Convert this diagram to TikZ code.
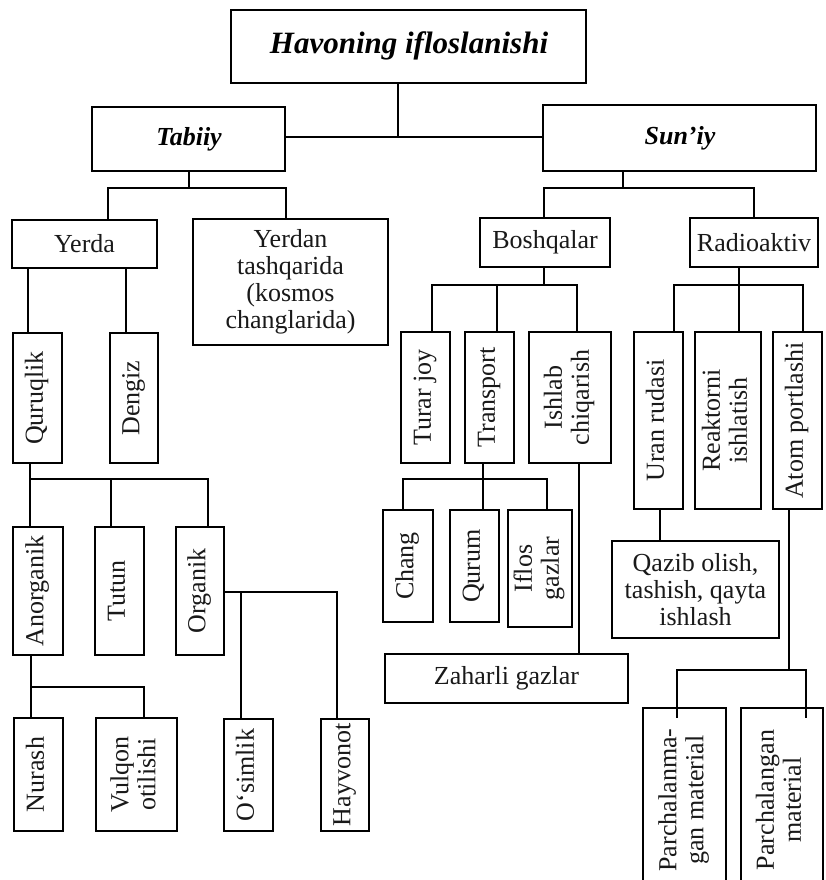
\documentclass[tikz,border=0pt]{standalone}
\usepackage{fontspec}
\setmainfont{Liberation Serif}
\usepackage{graphicx}
\usetikzlibrary{calc}
\newcommand{\mkbox}[6]{\node[bx, minimum width={(#4-#2)*1pt}, minimum height={(#5-#3)*1pt}] (#1) at ({(#2+#4)/2},{(#3+#5)/2}) {#6};}
\newcommand{\vt}[1]{\rotatebox{90}{\begin{tabular}{@{}c@{}}#1\end{tabular}}}
\begin{document}
\begin{tikzpicture}[x=1pt,y=-1pt,
  bx/.style={draw=black, line width=1.5pt, fill=white, inner sep=0pt, align=center,
    font=\fontsize{26}{27}\selectfont, text=black!90},
  ttl/.style={font=\fontsize{31}{33}\selectfont\bfseries\itshape},
  sub/.style={font=\fontsize{26}{27}\selectfont\bfseries\itshape},
  ln/.style={line width=1.5pt, line cap=rect}]
\useasboundingbox (0,0) rectangle (825,880);
\clip (0,0) rectangle (825,880);
\fill[white] (0,0) rectangle (825,880);
% boxes
\mkbox{top}{231}{10}{586}{83}{}
\node[ttl] at (409,46) {Havoning ifloslanishi};
\mkbox{tabiiy}{92}{107}{285}{171}{}
\node[sub] at (189,139) {Tabiiy};
\mkbox{suniy}{543}{105}{816}{171}{}
\node[sub] at (680,138) {Sun’iy};
\mkbox{yerda}{12}{220}{157}{268}{Yerda}
\mkbox{yerdan}{193}{219}{388}{345}{Yerdan\\tashqarida\\(kosmos\\changlarida)}
\mkbox{boshqalar}{480}{218}{610}{267}{Boshqalar}
\mkbox{radio}{690}{218}{818}{267}{Radioaktiv}
\mkbox{quruqlik}{13}{333}{62}{463}{\vt{Quruqlik}}
\mkbox{dengiz}{110}{333}{158}{463}{\vt{Dengiz}}
\mkbox{turar}{401}{332}{450}{463}{\vt{Turar joy}}
\mkbox{transport}{465}{332}{514}{463}{\vt{Transport}}
\mkbox{ishlab}{529}{332}{611}{463}{\vt{Ishlab\\chiqarish}}
\mkbox{uran}{634}{332}{683}{509}{\vt{Uran rudasi}}
\mkbox{reaktor}{695}{332}{761}{509}{\vt{Reaktorni\\ishlatish}}
\mkbox{atom}{773}{332}{822}{509}{\vt{Atom portlashi}}
\mkbox{anorganik}{13}{527}{63}{655}{\vt{Anorganik}}
\mkbox{tutun}{95}{527}{144}{655}{\vt{Tutun}}
\mkbox{organik}{176}{527}{224}{655}{\vt{Organik}}
\mkbox{chang}{383}{510}{433}{622}{\vt{Chang}}
\mkbox{qurum}{450}{510}{499}{622}{\vt{Qurum}}
\mkbox{iflos}{508}{510}{572}{627}{\vt{Iflos\\gazlar}}
\mkbox{zaharli}{385}{654}{628}{703}{Zaharli gazlar}
\mkbox{qazib}{612}{541}{779}{638}{Qazib olish,\\tashish, qayta\\ishlash}
\mkbox{nurash}{14}{718}{63}{831}{\vt{Nurash}}
\mkbox{vulqon}{96}{718}{177}{831}{\vt{Vulqon\\otilishi}}
\mkbox{osimlik}{224}{719}{273}{831}{\vt{O‘simlik}}
\mkbox{hayvonot}{321}{719}{369}{831}{\vt{Hayvonot}}
\mkbox{parchA}{643}{708}{726}{892}{\vt{Parchalanma-\\gan material}}
\mkbox{parchB}{741}{708}{823}{892}{\vt{Parchalangan\\material}}
% junction coordinates
\coordinate (t0) at (398,137);
\coordinate (ta1) at (108,188);
\coordinate (ta2) at (286,188);
\coordinate (ye1) at (28,300);
\coordinate (ye2) at (126,300);
\coordinate (q1) at (30,479);
\coordinate (q2) at (111,479);
\coordinate (q3) at (208,479);
\coordinate (a1) at (31,687);
\coordinate (a2) at (144,687);
\coordinate (o1) at (241,592);
\coordinate (o2) at (337,592);
\coordinate (s0) at (623,188);
\coordinate (s1) at (544,188);
\coordinate (s2) at (754,188);
\coordinate (b1) at (432,285);
\coordinate (b2) at (497,285);
\coordinate (b3) at (577,285);
\coordinate (bs) at (544,285);
\coordinate (r1) at (674,285);
\coordinate (r2) at (739,285);
\coordinate (r3) at (803,285);
\coordinate (tr1) at (403,479);
\coordinate (tr2) at (483,479);
\coordinate (tr3) at (547,479);
\coordinate (i1) at (579,560);
\coordinate (u1) at (660,520);
\coordinate (at0) at (789,670);
\coordinate (at1) at (677,670);
\coordinate (at2) at (806,670);
% connectors
\draw[ln] (top.south -| t0) -- (t0);
\draw[ln] (tabiiy.east |- t0) -- (suniy.west |- t0);
\draw[ln] (tabiiy.south -| 189,0) -- (189,188);
\draw[ln] (ta1 |- yerda.north) -- (ta1) -- (ta2) -- (ta2 |- yerdan.north);
\draw[ln] (yerda.south -| ye1) -- (quruqlik.north -| ye1);
\draw[ln] (yerda.south -| ye2) -- (dengiz.north -| ye2);
\draw[ln] (quruqlik.south -| q1) -- (q1) -- (q3) -- (q3 |- organik.north);
\draw[ln] (q1) -- (q1 |- anorganik.north);
\draw[ln] (q2) -- (q2 |- tutun.north);
\draw[ln] (anorganik.south -| a1) -- (a1) -- (a2) -- (a2 |- vulqon.north);
\draw[ln] (a1) -- (a1 |- nurash.north);
\draw[ln] (organik.east |- o1) -- (o2) -- (o2 |- hayvonot.north);
\draw[ln] (o1) -- (o1 |- osimlik.north);
\draw[ln] (suniy.south -| s0) -- (s0);
\draw[ln] (s1 |- boshqalar.north) -- (s1) -- (s2) -- (s2 |- radio.north);
\draw[ln] (boshqalar.south -| bs) -- (bs);
\draw[ln] (b1 |- turar.north) -- (b1) -- (b3) -- (b3 |- ishlab.north);
\draw[ln] (b2) -- (b2 |- transport.north);
\draw[ln] (radio.south -| r2) -- (r2);
\draw[ln] (r1 |- uran.north) -- (r1) -- (r3) -- (r3 |- atom.north);
\draw[ln] (r2) -- (r2 |- reaktor.north);
\draw[ln] (transport.south -| tr2) -- (tr2);
\draw[ln] (tr1 |- chang.north) -- (tr1) -- (tr3) -- (tr3 |- iflos.north);
\draw[ln] (tr2) -- (tr2 |- qurum.north);
\draw[ln] (ishlab.south -| i1) -- (zaharli.north -| i1);
\draw[ln] (uran.south -| u1) -- (qazib.north -| u1);
\draw[ln] (atom.south -| at0) -- (at0);
\draw[ln] ($(at1 |- parchA.north)+(0,10)$) -- (at1) -- (at2) -- ($(at2 |- parchB.north)+(0,10)$);
\end{tikzpicture}
\end{document}
